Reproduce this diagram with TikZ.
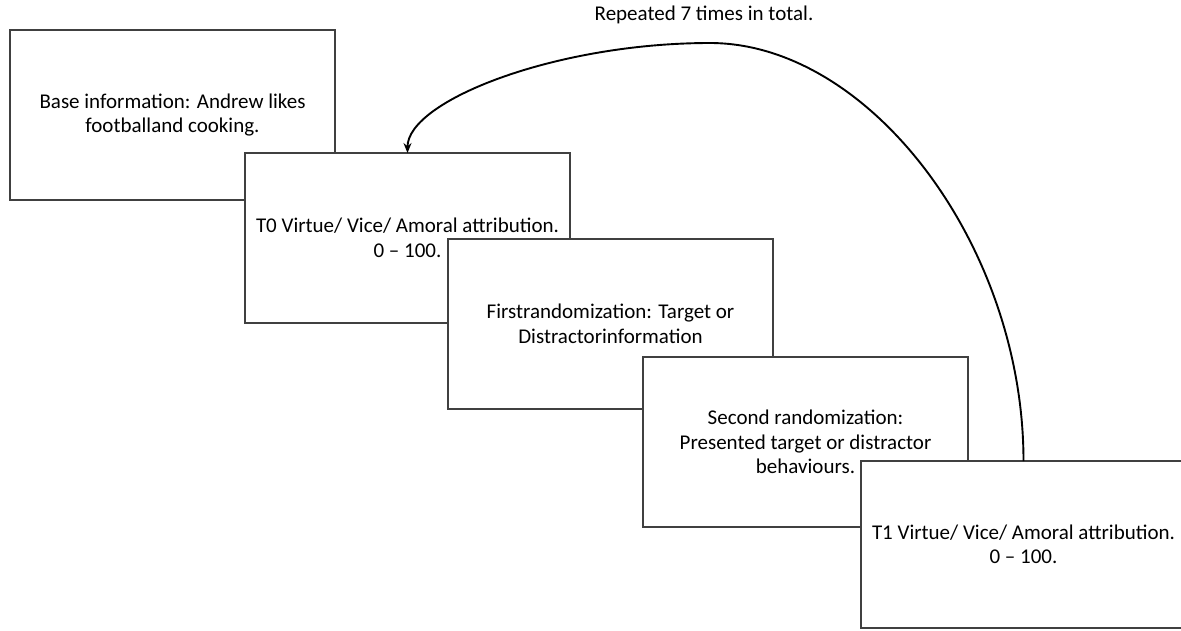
\documentclass[tikz,border=0pt]{standalone}
\usepackage{fontspec}
\setmainfont{Carlito}
\usepackage{tikz}
\usetikzlibrary{positioning}
\usetikzlibrary{arrows.meta}

\begin{document}
\begin{tikzpicture}
 [x=1pt, y=-1pt,
  stage/.style={rectangle, draw=black!75, line width=1.3pt, fill=white,
                minimum width=325pt, minimum height=170pt, inner sep=0pt, outer sep=0pt,
                align=center, font=\fontsize{21}{24.5}\selectfont},
  note/.style={font=\fontsize{21}{24.5}\selectfont},
  repeat/.style={-{Stealth[length=10pt,width=8pt]}, line width=1.9pt, black}]
 \useasboundingbox (0,0) rectangle (1181,630);
 \node[stage, anchor=north west] (base) at (10,30)
      {Base information: Andrew likes\\ footballand cooking.};
 \node[stage] (t0)   [below right=-47pt and -90pt of base.south east]
      {T0 Virtue/ Vice/ Amoral attribution.\\ 0 -- 100.};
 \node[stage] (rand1) [below right=-84pt and -122pt of t0.south east]
      {Firstrandomization: Target or\\ Distractorinformation};
 \node[stage] (rand2) [below right=-52pt and -130pt of rand1.south east]
      {Second randomization:\\ Presented target or distractor\\ behaviours.};
 \node[stage, minimum height=167pt] (t1) [below right=-66pt and -107pt of rand2.south east]
      {T1 Virtue/ Vice/ Amoral attribution.\\ 0 -- 100.};

 % loop back from T1 to T0
 \coordinate (peak) at (710,43);
 \node[note] (reps) at (704,15) {Repeated 7 times in total.};
 \draw[repeat] (t1.north)
        .. controls +(0,-215) and +(160,0) .. (peak)
        .. controls +(-155,0) and +(0,-52) .. (t0.north);
\end{tikzpicture}
\end{document}
